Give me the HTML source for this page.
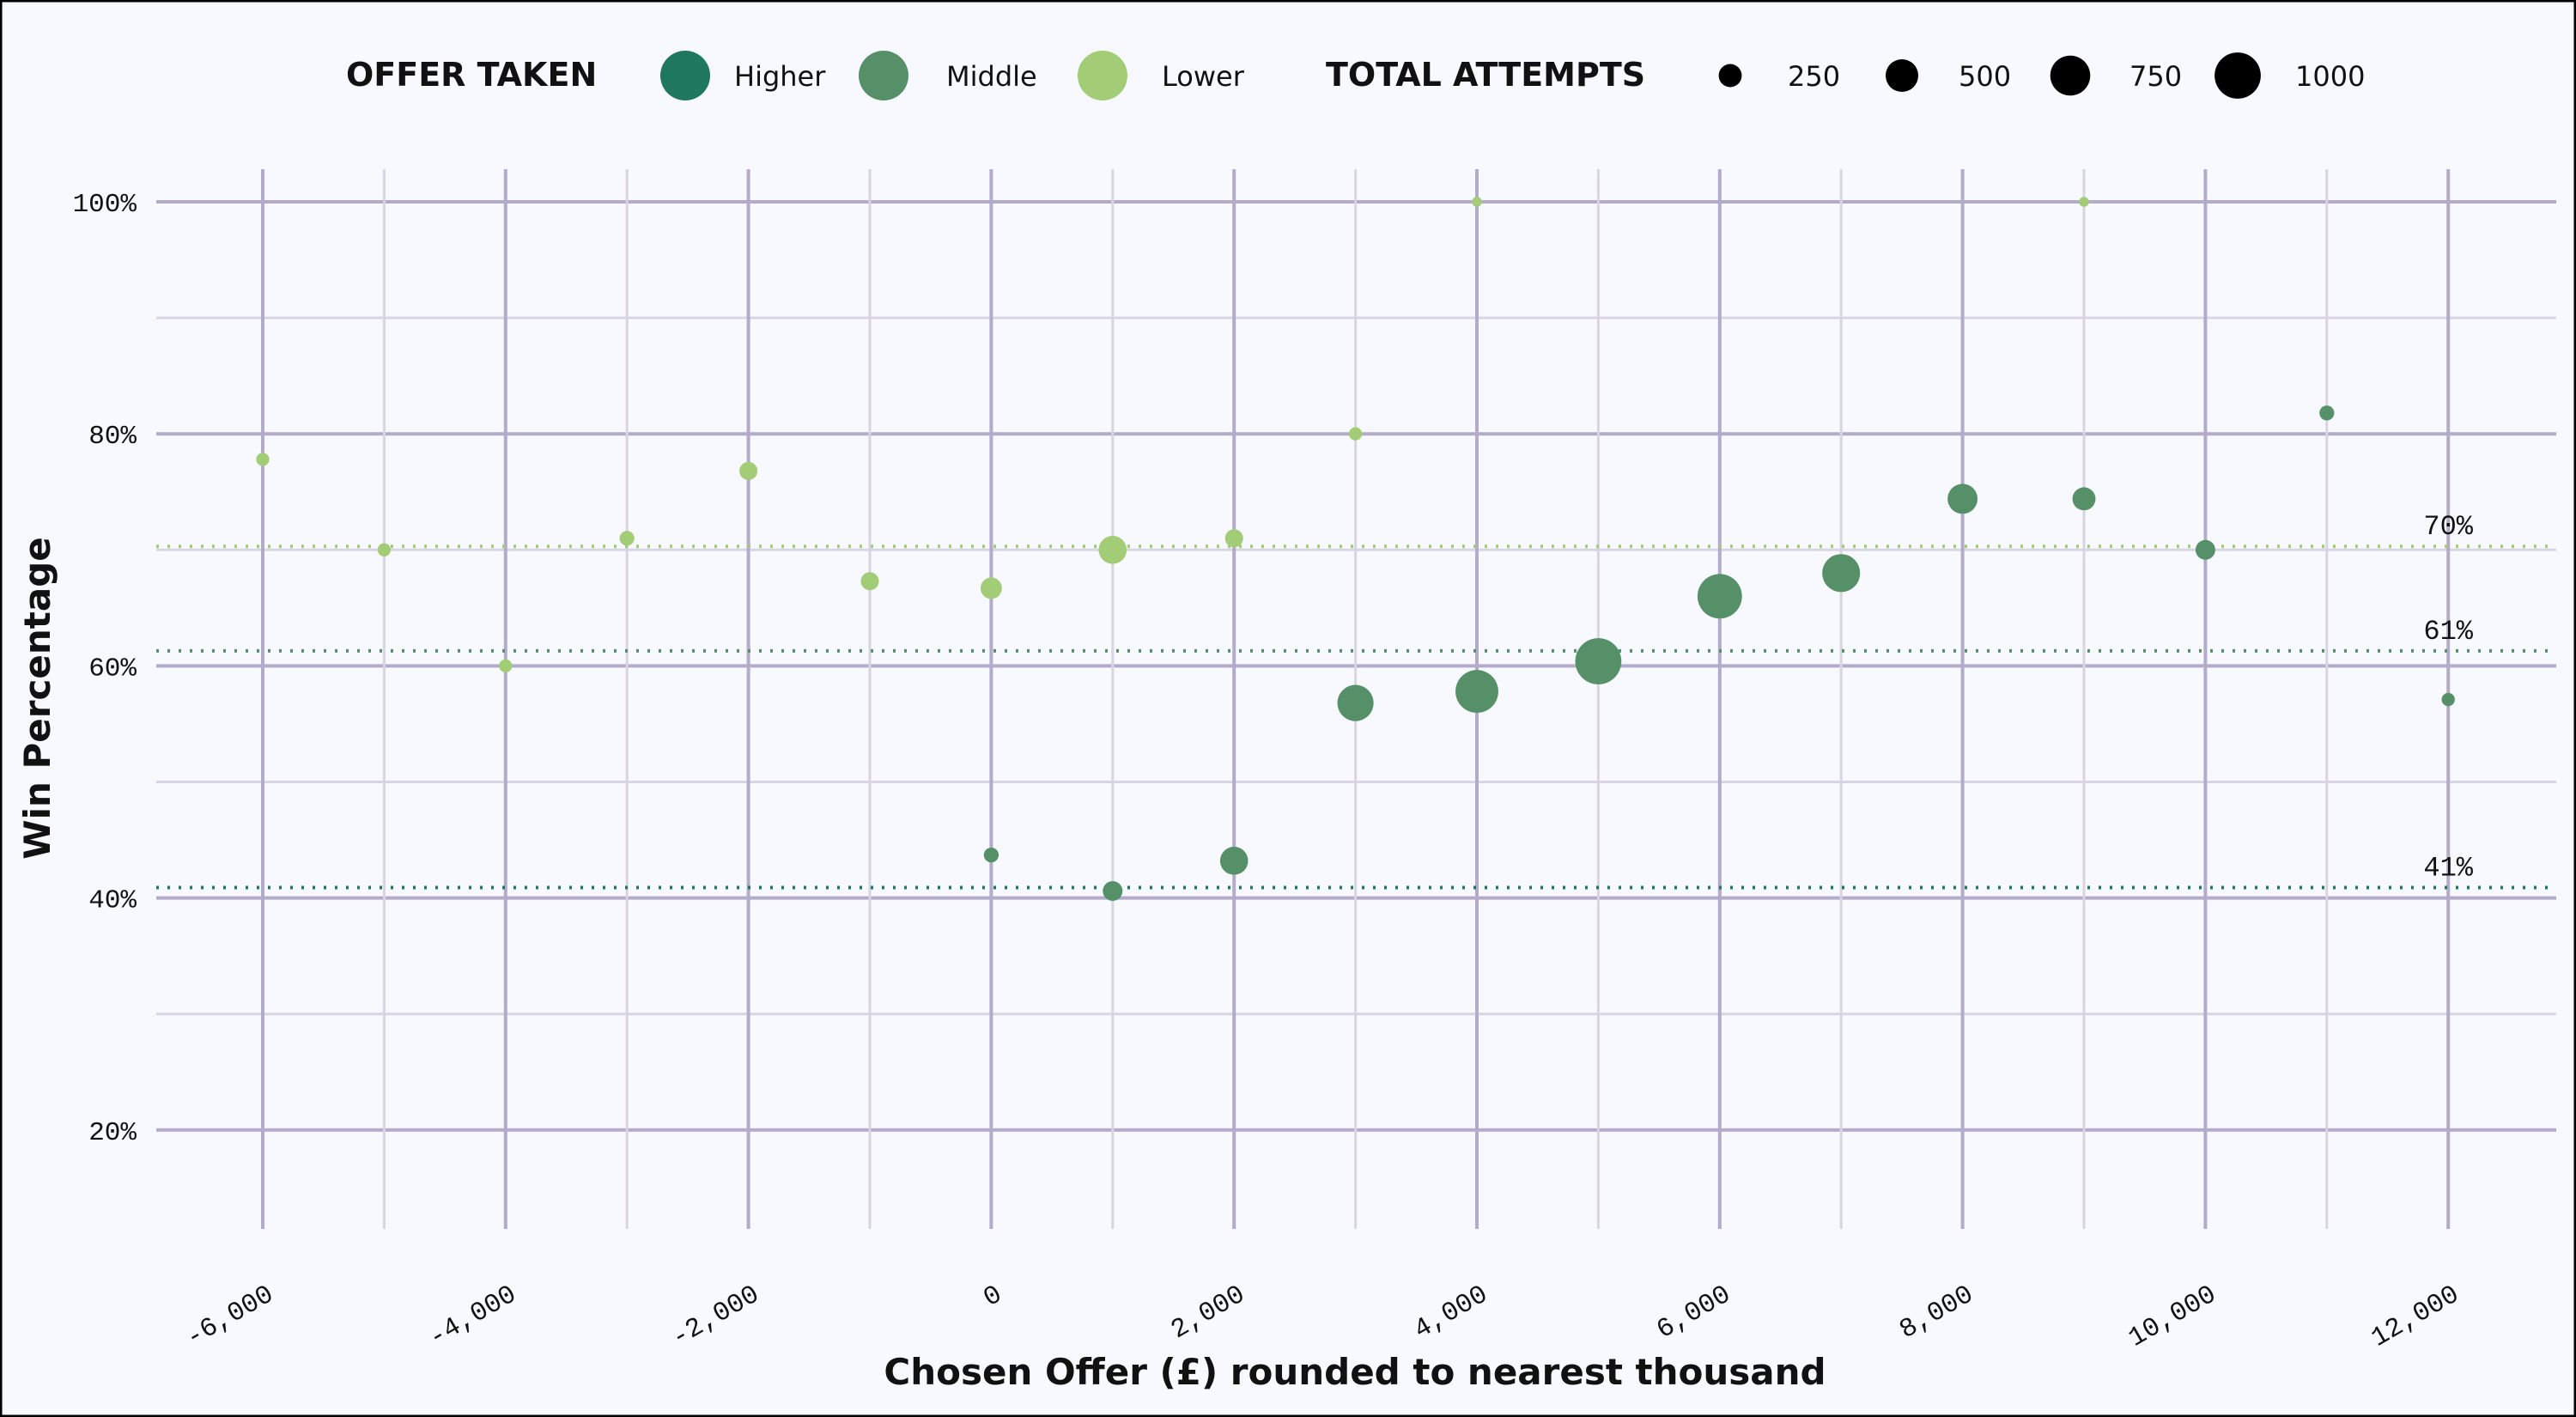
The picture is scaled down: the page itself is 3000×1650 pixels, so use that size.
<!DOCTYPE html>
<html><head><meta charset="utf-8"><style>
html,body{margin:0;padding:0;background:#f8f9fe;}
svg{display:block;}
.mono{font-family:"Liberation Mono","DejaVu Sans Mono",monospace;}
.sans{font-family:"DejaVu Sans","Liberation Sans",sans-serif;}
</style></head><body>
<svg id="chart" width="3000" height="1650" viewBox="0 0 3000 1650" xmlns="http://www.w3.org/2000/svg">
<rect x="1" y="1" width="2998" height="1648" fill="#f8f9fe" stroke="#000" stroke-width="3"/>
<g id="grid"></g>
<g id="refs"></g>
<g id="points"></g>
<g id="axes"></g>
<g id="legend"></g>
<text class="sans" x="1578" y="1612" font-size="42" font-weight="bold" text-anchor="middle" fill="#111">Chosen Offer (£) rounded to nearest thousand</text>
<text class="sans" transform="translate(58,813) rotate(-90)" font-size="42" font-weight="bold" text-anchor="middle" fill="#111">Win Percentage</text>
</svg>
<script>
const lowerX = [-6,-5,-4,-3,-2,-1,0,1,2,3,4,9];
const lowerY = [77.8,70,60,71,76.8,67.3,66.7,70,71,80,100,100];
const lowerN = [81,81,81,103,154,154,215,368,154,81,46,46];
const middleX = [0,1,2,3,4,5,6,7,8,9,10,11,12];
const middleY = [43.7,40.6,43.2,56.8,57.8,60.4,66,68,74.4,74.4,70,81.8,57.1];
const middleN = [103,183,368,616,861,1000,929,674,421,250,183,103,81];
const refValues = [70.3,61.3,40.9];
const refLabels = ["70%","61%","41%"];
const yTicks = [20,40,60,80,100];
const yTickLabels = ["20%","40%","60%","80%","100%"];
const xTicks = [-6,-4,-2,0,2,4,6,8,10,12];
const xTickLabels = ["-6,000","-4,000","-2,000","0","2,000","4,000","6,000","8,000","10,000","12,000"];
const sizeLegend = [250,500,750,1000];

const NS = "http://www.w3.org/2000/svg";
const C = {Higher:"#20775f", Middle:"#569068", Lower:"#a2cc76"};
function xs(v){return 306 + (v+6)*141.4;}
function ys(v){return 235 + (100-v)*13.51;}
function rs(n){return 0.85*Math.sqrt(n);}
function mk(tag, attrs, parent){const e=document.createElementNS(NS,tag);for(const k in attrs)e.setAttribute(k,attrs[k]);parent.appendChild(e);return e;}

const grid=document.getElementById('grid');
for(let v=20; v<=100; v+=10){
  const major = v%20===0;
  const l = mk('line',{x1:182,x2:2977,y1:ys(v),y2:ys(v),stroke:major?"#b3abc9":"#d9d4e4","stroke-width":major?4:3},grid);
  
  
}
for(let v=-6; v<=12; v+=1){
  const major = v%2===0;
  const l = mk('line',{x1:xs(v),x2:xs(v),y1:197,y2:1431,stroke:major?"#b3abc9":"#d9d4e4","stroke-width":major?4:3},grid);
  
  
}
const refs=document.getElementById('refs');
const refColors=[C.Lower,C.Middle,C.Higher];
refValues.forEach((v,i)=>{
  const l = mk('line',{x1:182,x2:2977,y1:ys(v),y2:ys(v),stroke:refColors[i],"stroke-width":4,"stroke-dasharray":"3 10"},refs);
  
  
  const t = mk('text',{x:xs(12),y:ys(v)-14,"font-size":32,"text-anchor":"middle",fill:"#111",class:"mono"},refs);
  t.textContent=refLabels[i];
  
  
});
const pts=document.getElementById('points');
lowerX.forEach((x,i)=>{
  const c=mk('circle',{cx:xs(x),cy:ys(lowerY[i]),r:rs(lowerN[i]),fill:C.Lower},pts);
  
  
});
middleX.forEach((x,i)=>{
  const c=mk('circle',{cx:xs(x),cy:ys(middleY[i]),r:rs(middleN[i]),fill:C.Middle},pts);
  
  
});
const axes=document.getElementById('axes');
yTicks.forEach((v,i)=>{
  const t=mk('text',{x:159,y:ys(v)+11,"font-size":31,"text-anchor":"end",fill:"#111",class:"mono"},axes);
  t.textContent=yTickLabels[i];
  
  
});
xTicks.forEach((v,i)=>{
  const t=mk('text',{transform:`translate(${xs(v)+14},${1512}) rotate(-30)`,"font-size":31,"text-anchor":"end",fill:"#111",class:"mono"},axes);
  t.textContent=xTickLabels[i];
  
  
});
const lg=document.getElementById('legend');
function ltext(x,txt,size,bold,name){
  const t=mk('text',{x:x,y:100,"font-size":size,"font-weight":bold?"bold":"normal",fill:"#111",class:"sans"},lg);
  t.textContent=txt;
  
  
}
ltext(403,"OFFER TAKEN",38,true,'legend-title-offer');
[["Higher",798,855],["Middle",1029,1102],["Lower",1284,1353]].forEach(a=>{
  const c=mk('circle',{cx:a[1],cy:88,r:29,fill:C[a[0]]},lg);
  
  
  ltext(a[2],a[0],32,false,'legend-label-'+a[0].toLowerCase());
});
ltext(1544,"TOTAL ATTEMPTS",38,true,'legend-title-attempts');
const sx=[2015,2215,2411,2606], tx=[2082,2281,2480,2673];
sizeLegend.forEach((n,i)=>{
  const c=mk('circle',{cx:sx[i],cy:88,r:rs(n),fill:"#000"},lg);
  
  
  ltext(tx[i],String(n),32,false,'legend-size-label');
});
</script>
</body></html>
